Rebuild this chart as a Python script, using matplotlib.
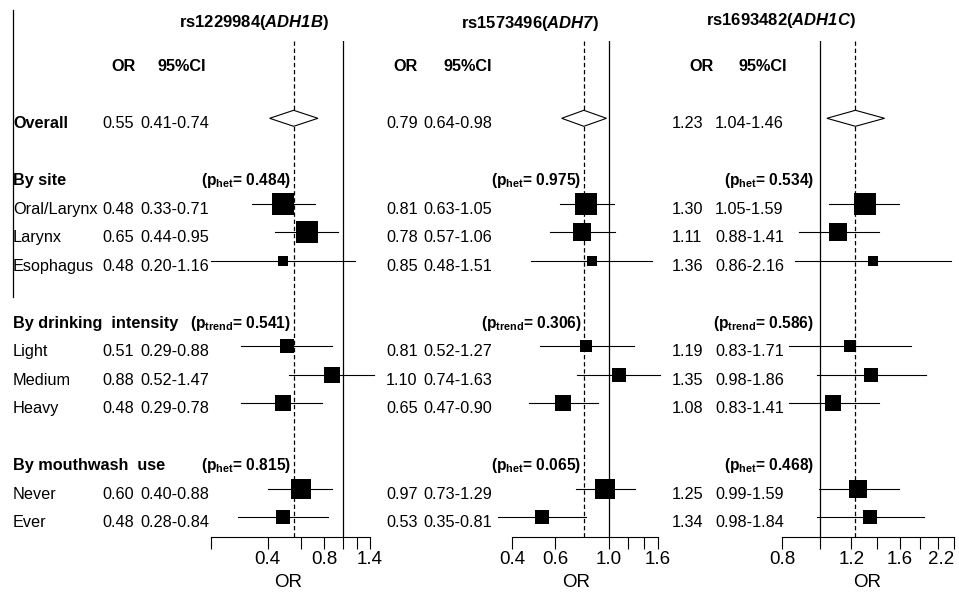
import numpy as np
import matplotlib.pyplot as plt
from matplotlib import transforms
from matplotlib.lines import Line2D
from matplotlib.patches import Polygon
from matplotlib.ticker import NullLocator

plt.rcParams['font.family'] = ['Liberation Sans', 'DejaVu Sans']
plt.rcParams['mathtext.fontset'] = 'custom'
plt.rcParams['mathtext.rm'] = 'Liberation Sans'
plt.rcParams['mathtext.sf'] = 'Liberation Sans:italic:bold'
plt.rcParams['mathtext.bf'] = 'Liberation Sans:bold'

# ---- data ----
snps = ['rs1229984', 'rs1573496', 'rs1693482']
genes = ['ADH1B', 'ADH7', 'ADH1C']
subgroups = ['Oral/Larynx', 'Larynx', 'Esophagus',
             'Light', 'Medium', 'Heavy', 'Never', 'Ever']
headers = ['By site', 'By drinking  intensity', 'By mouthwash  use']

overall_or = [0.55, 0.79, 1.23]
overall_lo = [0.41, 0.64, 1.04]
overall_hi = [0.74, 0.98, 1.46]

or_1229984 = [0.48, 0.65, 0.48, 0.51, 0.88, 0.48, 0.60, 0.48]
lo_1229984 = [0.33, 0.44, 0.20, 0.29, 0.52, 0.29, 0.40, 0.28]
hi_1229984 = [0.71, 0.95, 1.16, 0.88, 1.47, 0.78, 0.88, 0.84]

or_1573496 = [0.81, 0.78, 0.85, 0.81, 1.10, 0.65, 0.97, 0.53]
lo_1573496 = [0.63, 0.57, 0.48, 0.52, 0.74, 0.47, 0.73, 0.35]
hi_1573496 = [1.05, 1.06, 1.51, 1.27, 1.63, 0.90, 1.29, 0.81]

or_1693482 = [1.30, 1.11, 1.36, 1.19, 1.35, 1.08, 1.25, 1.34]
lo_1693482 = [1.05, 0.88, 0.86, 0.83, 0.98, 0.83, 0.99, 0.98]
hi_1693482 = [1.59, 1.41, 2.16, 1.71, 1.86, 1.41, 1.59, 1.84]

p_values = [('het', [0.484, 0.975, 0.534]),
            ('trend', [0.541, 0.306, 0.586]),
            ('het', [0.815, 0.065, 0.468])]

xticks = [[0.2, 0.4, 0.6, 0.8, 1.0, 1.2, 1.4],
          [0.4, 0.6, 1.0, 1.2, 1.4, 1.6],
          [0.8, 1.0, 1.2, 1.4, 1.6, 1.8, 2.0, 2.2]]
xticklabels = [['', '0.4', '', '0.8', '', '', '1.4'],
               ['0.4', '0.6', '1.0', '', '', '1.6'],
               ['0.8', '', '1.2', '', '1.6', '', '', '2.2']]

ors = [or_1229984, or_1573496, or_1693482]
los = [lo_1229984, lo_1573496, lo_1693482]
his = [hi_1229984, hi_1573496, hi_1693482]

# ---- layout (pixels) ----
W, H = 959, 594
fig = plt.figure(figsize=(W / 100, H / 100), dpi=100)

def fx(px):
    return px / W

def fy(py):
    return 1 - py / H

top_px, bottom_px = 41, 537
row_px, first_px = 28.5, 118.3
overall_row = 0
header_rows = [2, 7, 12]
sub_rows = [3, 4, 5, 8, 9, 10, 13, 14]
col_row = -2
y_top = (top_px - first_px) / row_px
y_bot = (bottom_px - first_px) / row_px

ax_left = [211, 512.3, 782.3]
ax_right = [370, 658, 954.3]
or_x = [102, 386, 671.7]
ci_x = [140, 423.3, 715]
hdr_or_x = [111, 393.3, 689.3]
hdr_ci_x = [157, 443.3, 738.3]
p_right = [291, 581.5, 814]
title_cx = [254, 529.5, 781]
title_base = [26.5, 28, 25.5]
xlabel_x = [0.486, 0.436, 0.495]
label_x = 13
max_box = 21.5
fs = 11.7

for i in range(3):
    ax = fig.add_axes([fx(ax_left[i]), fy(bottom_px),
                       fx(ax_right[i] - ax_left[i]), (bottom_px - top_px) / H])
    ax.patch.set_visible(False)
    ax.set_xscale('log')
    ax.set_xlim(xticks[i][0], xticks[i][-1])
    ax.set_ylim(y_bot, y_top)
    for s in ['top', 'left', 'right']:
        ax.spines[s].set_visible(False)
    ax.spines['bottom'].set_linewidth(0.8)
    ax.set_yticks([])
    ax.xaxis.set_minor_locator(NullLocator())
    ax.set_xticks(xticks[i])
    ax.set_xticklabels(xticklabels[i])
    ax.tick_params(axis='x', length=8.5, width=0.8, pad=1.5, labelsize=13.5)
    if i == 2:
        ax.get_xticklabels()[-1].set_horizontalalignment('right')
    ax.set_xlabel('OR', fontsize=13.5)
    ax.xaxis.set_label_coords(xlabel_x[i], -0.075)

    ax.axvline(1.0, color='black', lw=0.9)
    ax.axvline(overall_or[i], color='black', lw=0.9, ls=(0, (3.5, 2.2)))

    # overall diamond
    h = 8 / row_px
    dia = Polygon([(overall_lo[i], overall_row), (overall_or[i], overall_row - h),
                   (overall_hi[i], overall_row), (overall_or[i], overall_row + h)],
                  closed=True, facecolor='white', edgecolor='black', lw=0.8,
                  zorder=3, clip_on=False)
    ax.add_patch(dia)

    # box sizes from inverse CI width (log scale), scaled per panel
    inv_w = 1 / (np.log(his[i]) - np.log(los[i]))
    sides = max_box * inv_w / inv_w.max() * 0.72
    for k in range(len(subgroups)):
        ax.plot([los[i][k], his[i][k]], [sub_rows[k]] * 2, color='black',
                lw=0.8, clip_on=False, zorder=2)
        ax.plot(ors[i][k], sub_rows[k], marker='s', ms=sides[k], mew=0,
                color='black', clip_on=False, zorder=4)

    # text
    tr = transforms.blended_transform_factory(fig.transFigure, ax.transData)
    tr = transforms.offset_copy(tr, fig=fig, y=-7.3, units='points')
    ax.text(fx(hdr_or_x[i]), col_row, 'OR', transform=tr, fontsize=fs,
            fontweight='bold', va='baseline')
    ax.text(fx(hdr_ci_x[i]), col_row, '95%CI', transform=tr, fontsize=fs,
            fontweight='bold', va='baseline')
    ax.text(fx(or_x[i]), overall_row, f'{overall_or[i]:.2f}', transform=tr,
            fontsize=fs, va='baseline')
    ax.text(fx(ci_x[i]), overall_row,
            f'{overall_lo[i]:.2f}-{overall_hi[i]:.2f}', transform=tr,
            fontsize=fs, va='baseline')
    for k in range(len(subgroups)):
        ax.text(fx(or_x[i]), sub_rows[k], f'{ors[i][k]:.2f}', transform=tr,
                fontsize=fs, va='baseline')
        ax.text(fx(ci_x[i]), sub_rows[k], f'{los[i][k]:.2f}-{his[i][k]:.2f}',
                transform=tr, fontsize=fs, va='baseline')
    for j, (kind, pv) in enumerate(p_values):
        ax.text(fx(p_right[i]), header_rows[j],
                '(p$_{\\mathbf{' + kind + '}}$= ' + f'{pv[i]:.3f})',
                transform=tr, fontsize=11.2, fontweight='bold', va='baseline',
                ha='right')

    if i == 0:
        ax.text(fx(label_x), overall_row, 'Overall', transform=tr, fontsize=fs,
                fontweight='bold', va='baseline')
        for j, hd in enumerate(headers):
            ax.text(fx(label_x), header_rows[j], hd, transform=tr, fontsize=fs,
                    fontweight='bold', va='baseline')
        for k, sg in enumerate(subgroups):
            ax.text(fx(label_x), sub_rows[k], sg, transform=tr, fontsize=fs,
                    va='baseline')

    fig.text(fx(title_cx[i]), fy(title_base[i]),
             snps[i] + '($\\mathsf{' + genes[i] + '}$)', fontsize=12,
             fontweight='bold', ha='center', va='baseline')

fig.add_artist(Line2D([fx(12.7), fx(12.7)], [fy(10), fy(297)],
                      transform=fig.transFigure, color='black', lw=0.9))

fig.savefig('out.png', dpi=100)
